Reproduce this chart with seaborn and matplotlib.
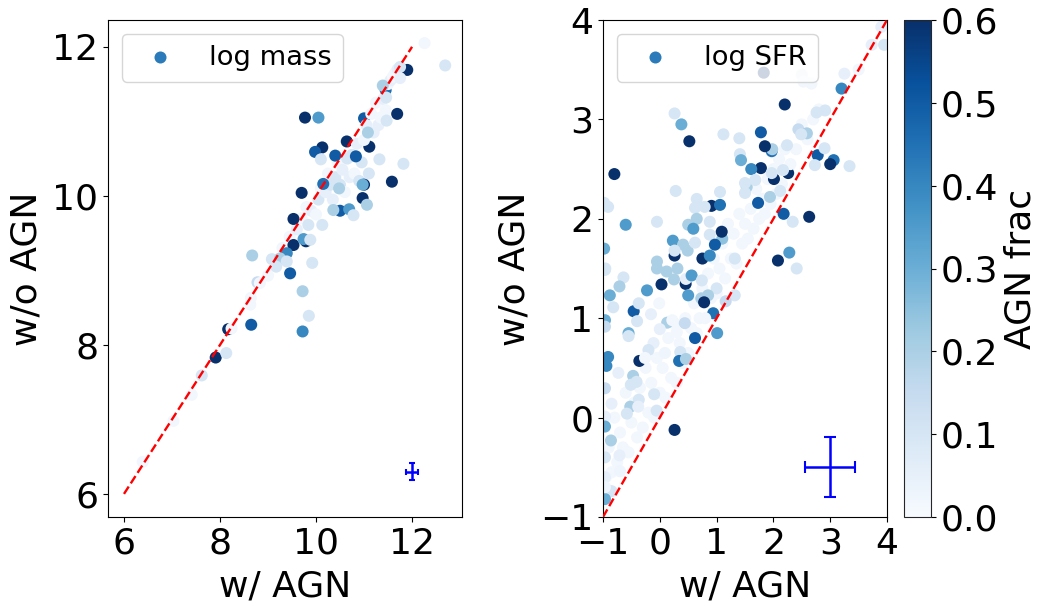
import numpy as np
import pandas as pd
import matplotlib
matplotlib.use("Agg")
import matplotlib.pyplot as plt
import seaborn as sns

sns.set_style("ticks")
plt.rcParams['font.family'] = ['DejaVu Sans']
plt.rcParams['font.size'] = 26
plt.rcParams['text.color'] = 'black'
plt.rcParams['axes.labelcolor'] = 'black'
plt.rcParams['xtick.color'] = 'black'
plt.rcParams['ytick.color'] = 'black'

# left panel, dark points that sit under the pale cloud
mass_under_x = [11.45, 11.0, 11.11, 10.64]
mass_under_y = [11.42, 11.04, 10.66, 10.73]
mass_under_f = [0.45, 0.5, 0.6, 0.6]

# left panel, pale cloud along the line
mass_pale_x = [9.3, 9.45, 9.6, 9.7, 9.8, 9.9, 10.0, 10.05, 10.1, 10.2,
               10.25, 10.3, 10.35, 10.4, 10.45, 10.5, 10.55, 10.6, 10.65, 10.7,
               10.75, 10.8, 10.85, 10.9, 10.95, 11.0, 11.05, 11.1, 11.15, 11.2,
               11.25, 11.3, 11.35, 11.4, 11.45, 11.5, 11.55, 11.6, 11.65, 11.7]
mass_pale_y = [9.3, 9.45, 9.55, 9.7, 9.85, 9.8, 9.75, 9.95, 10.1, 10.05,
               10.3, 10.15, 9.95, 10.25, 10.45, 10.15, 10.35, 10.05, 10.5, 10.25,
               10.55, 10.3, 10.7, 10.2, 10.45, 10.75, 10.95, 10.3, 11.1, 10.85,
               11.25, 10.95, 11.05, 11.3, 11.15, 11.5, 11.55, 11.6, 11.65, 11.7]
mass_pale_f = [0.02, 0.02, 0.05, 0.02, 0.02, 0.05, 0.02, 0.1, 0.02, 0.05,
               0.02, 0.1, 0.05, 0.1, 0.02, 0.1, 0.05, 0.02, 0.1, 0.05,
               0.1, 0.02, 0.05, 0.1, 0.1, 0.02, 0.05, 0.1, 0.02, 0.05,
               0.02, 0.05, 0.02, 0.05, 0.02, 0.02, 0.05, 0.02, 0.02, 0.05]

# left panel, points that can be picked out
mass_x = [12.26, 12.69, 11.9, 11.75, 11.75, 11.39, 11.46, 11.69, 11.47,
          9.77, 10.05, 11.08, 10.13, 9.98, 10.1, 10.4, 10.83,
          11.32, 11.82, 11.58, 9.7, 11.0, 10.97, 10.97, 11.06, 10.48,
          10.15, 10.5, 10.36, 10.69, 10.78, 9.53, 9.84, 10.13, 9.79, 9.53,
          9.74, 9.88, 8.67, 9.08, 9.39, 9.25, 9.92, 9.46, 9.72, 9.85,
          9.72, 8.65, 8.17, 8.24, 7.91, 8.13, 7.62, 7.41, 7.03, 6.39,
          8.63, 8.64, 8.78, 8.83, 9.0, 9.17, 9.39]
mass_y = [12.05, 11.75, 11.69, 11.73, 11.58, 11.48, 11.32, 11.1, 11.01,
          11.05, 11.05, 10.85, 10.65, 10.59, 10.49, 10.54, 10.53,
          10.49, 10.43, 10.19, 10.04, 10.15, 10.15, 9.97, 9.88, 10.1,
          10.16, 9.8, 9.81, 9.82, 9.74, 9.69, 9.61, 9.61, 9.39, 9.34,
          9.42, 9.41, 9.2, 9.15, 9.23, 9.16, 9.1, 8.96, 8.72, 8.39,
          8.18, 8.27, 8.21, 8.22, 7.83, 7.89, 7.59, 7.33, 6.98, 6.43,
          8.54, 8.63, 8.84, 8.83, 8.93, 9.05, 9.12]
mass_f = [0.02, 0.1, 0.6, 0.1, 0.05, 0.2, 0.1, 0.6, 0.1,
          0.6, 0.35, 0.2, 0.6, 0.5, 0.1, 0.5, 0.5,
          0.1, 0.1, 0.6, 0.6, 0.6, 0.3, 0.6, 0.2, 0.2,
          0.45, 0.5, 0.2, 0.35, 0.1, 0.6, 0.1, 0.1, 0.6, 0.6,
          0.35, 0.1, 0.2, 0.1, 0.4, 0.2, 0.1, 0.5, 0.2, 0.1,
          0.4, 0.5, 0.6, 0.02, 0.6, 0.1, 0.1, 0.02, 0.02, 0.02,
          0.02, 0.02, 0.15, 0.02, 0.02, 0.1, 0.1]

# right panel, dark points that sit under the pale cloud
sfr_under_x = [2.78, 2.26, 0.94]
sfr_under_y = [2.64, 2.46, 1.05]
sfr_under_f = [0.5, 0.6, 0.45]

# right panel, pale cloud above the line
sfr_pale_x = [-0.95, -0.9, -0.85, -0.8, -0.75, -0.7, -0.65, -0.6, -0.55, -0.5,
              -0.45, -0.4, -0.35, -0.3, -0.25, -0.2, -0.15, -0.1, -0.05, 0.0,
              0.05, 0.1, 0.15, 0.2, 0.25, 0.3, 0.35, 0.4, 0.45, 0.5,
              0.55, 0.6, 0.65, 0.7, 0.75, 0.8, 0.85, 0.9, 0.95, 1.0,
              1.05, 1.1, 1.15, 1.2, 1.25, 1.3, 1.35, 1.4, 1.45, 1.5,
              1.55, 1.6, 1.65, 1.7, 1.75, 1.8, 1.85, 1.9, 1.95, 2.0,
              2.05, 2.1, 2.15, 2.2, 2.3, 2.4, 2.5, 2.6, 2.7, 2.8]
sfr_pale_y = [-0.6, -0.3, -0.55, 0.0, -0.45, -0.15, -0.3, 0.25, -0.35, -0.05,
              0.15, -0.2, 0.3, -0.1, 0.5, 0.05, 0.35, 0.0, 0.6, 0.25,
              0.5, 0.2, 0.8, 0.4, 0.95, 0.35, 0.75, 0.55, 1.0, 0.65,
              0.9, 1.15, 0.85, 1.0, 1.3, 1.0, 1.45, 1.2, 1.6, 1.25,
              1.5, 1.75, 1.4, 1.95, 1.6, 1.85, 1.55, 2.05, 1.75, 1.95,
              1.8, 2.1, 1.9, 2.3, 2.0, 2.2, 2.05, 2.4, 2.15, 2.5,
              2.25, 2.6, 2.35, 2.7, 2.55, 2.7, 2.95, 2.8, 3.0, 3.1]
sfr_pale_f = [0.02] * 70

# right panel, points that can be picked out
sfr_x = [3.95, 1.83, 3.2, 2.2, 0.26, 0.38, 0.52, 1.12, 1.4, 1.78,
         1.97, 1.98, 1.85, 2.24, 2.76, 2.91, 2.44, 2.59, 2.49, 1.41,
         1.43, 1.78, 1.61, 3.06, 3.0, 3.34, 2.73, 2.9, -0.8, 0.28,
         -0.91, -0.98, -0.6, -0.05, 0.65, 1.06, 0.91, 1.06, 0.79, 0.62,
         0.65, 0.5, 0.59, 0.88, 1.1, 1.09, 0.88, 0.23, 0.41, 0.49,
         0.62, 0.97, 0.26, 0.26, 0.75, 0.88, 1.32, -0.98, 2.08, 2.28,
         2.41, 2.63, 2.18, 2.34, 1.73, 1.94, 2.12, 2.01, 1.97,
         2.17, 1.53, 1.5, 1.5, 1.68, 2.5, 2.67, 2.53, 3.25,
         3.73, 3.5, 3.9, -0.05, -0.05, -0.96, -0.965, -0.64, -0.71, -0.225,
         0.03, 0.12, 0.25, 0.31, 0.455, 0.46, 0.56, 0.74, 0.5, 1.0,
         0.85, 0.73, 0.78, 1.32, 1.16, -0.88, -0.82, -0.46, -0.37,
         -0.01, -0.155, -0.4, -0.965, -0.965, 0.13, 0.22, 0.44, 0.0, 0.3,
         0.62, 1.01, -0.55, -0.55, -0.11, -0.2, 0.09, 0.36, -0.91, -0.94,
         -0.36, -0.26, 0.34, 0.46, -0.73, -0.47, -0.41, -0.51, -0.965, -0.1,
         -0.37, -0.52, -0.38, -0.58, -0.85, -0.055, 0.26, -0.965, -0.965, -0.86,
         -0.71, -0.965, -0.7, -0.965, -0.85, -0.965, -0.965]
sfr_y = [3.75, 3.47, 3.31, 3.15, 3.06, 2.95, 2.78, 2.85, 2.81, 2.87,
         2.68, 2.7, 2.73, 2.74, 3.07, 3.09, 2.9, 2.86, 2.85, 2.65,
         2.59, 2.51, 2.5, 2.59, 2.55, 2.53, 2.54, 2.71, 2.45, 2.28,
         2.12, 2.16, 1.94, 1.97, 2.2, 2.27, 2.13, 2.14, 2.12, 2.11,
         2.0, 1.94, 1.9, 1.97, 1.8, 1.87, 1.84, 1.78, 1.74, 1.68,
         1.76, 1.74, 1.63, 1.68, 1.6, 1.63, 1.6, 1.7, 1.58, 1.66,
         1.5, 2.02, 2.05, 1.97, 2.16, 2.22, 2.28, 2.4, 2.46,
         2.49, 2.32, 2.26, 2.36, 2.39, 3.45, 3.36, 3.38, 3.46,
         3.75, 3.5, 3.93, 1.57, 1.5, 1.5, 1.486, 1.41, 1.32, 1.28,
         1.34, 1.47, 1.39, 1.5, 1.345, 1.395, 1.43, 1.38, 1.23, 1.3,
         1.23, 1.2, 1.16, 1.23, 1.17, 1.23, 1.11, 1.07, 1.15,
         1.15, 1.04, 0.97, 0.98, 0.915, 0.955, 0.98, 0.95, 0.89, 0.86,
         0.8, 0.85, 0.85, 0.82, 0.75, 0.68, 0.65, 0.66, 0.61, 0.52,
         0.57, 0.6, 0.57, 0.59, 0.45, 0.42, 0.36, 0.33, 0.295, 0.235,
         0.18, 0.11, 0.11, 0.04, 0.14, 0.07, -0.124, 0.01, -0.09, -0.23,
         -0.38, -0.4, -0.54, -0.6, -0.74, -0.82, -0.7]
sfr_f = [0.1, 0.6, 0.4, 0.6, 0.1, 0.3, 0.6, 0.1, 0.1, 0.5,
         0.45, 0.2, 0.6, 0.1, 0.1, 0.1, 0.15, 0.2, 0.1, 0.1,
         0.3, 0.6, 0.4, 0.45, 0.6, 0.1, 0.1, 0.1, 0.6, 0.1,
         0.1, 0.1, 0.35, 0.1, 0.1, 0.1, 0.6, 0.45, 0.1, 0.1,
         0.2, 0.2, 0.35, 0.1, 0.25, 0.6, 0.1, 0.35, 0.2, 0.2,
         0.1, 0.5, 0.6, 0.1, 0.6, 0.4, 0.1, 0.3, 0.6, 0.35,
         0.1, 0.6, 0.5, 0.1, 0.5, 0.2, 0.1, 0.6, 0.1,
         0.1, 0.2, 0.1, 0.1, 0.1, 0.05, 0.02, 0.02, 0.05,
         0.05, 0.02, 0.05, 0.2, 0.2, 0.1, 0.1, 0.1, 0.2, 0.35,
         0.6, 0.2, 0.2, 0.2, 0.6, 0.05, 0.35, 0.1, 0.35, 0.1,
         0.2, 0.2, 0.6, 0.1, 0.15, 0.3, 0.1, 0.5, 0.1,
         0.02, 0.05, 0.1, 0.3, 0.15, 0.2, 0.02, 0.15, 0.05, 0.02,
         0.5, 0.35, 0.3, 0.1, 0.05, 0.1, 0.03, 0.1, 0.4, 0.4,
         0.6, 0.02, 0.45, 0.2, 0.05, 0.2, 0.1, 0.1, 0.15, 0.1,
         0.1, 0.2, 0.05, 0.1, 0.05, 0.1, 0.6, 0.05, 0.3, 0.2,
         0.05, 0.1, 0.03, 0.05, 0.1, 0.3, 0.03]

one_to_one_mass = [6, 12]
one_to_one_sfr = [-1, 4]
frac_ticks = [0.0, 0.1, 0.2, 0.3, 0.4, 0.5, 0.6]

W, H = 1038, 606
fig = plt.figure(figsize=(W / 100, H / 100), dpi=100)
ax1 = fig.add_axes([108 / W, 89 / H, 354 / W, 497 / H])
ax2 = fig.add_axes([603 / W, 89 / H, 284 / W, 497 / H])
cax = fig.add_axes([904 / W, 89 / H, 27 / W, 497 / H])

df1 = pd.DataFrame({"x": mass_under_x + mass_pale_x + mass_x,
                    "y": mass_under_y + mass_pale_y + mass_y,
                    "f": mass_under_f + mass_pale_f + mass_f})
df2 = pd.DataFrame({"x": sfr_under_x + sfr_pale_x + sfr_x,
                    "y": sfr_under_y + sfr_pale_y + sfr_y,
                    "f": sfr_under_f + sfr_pale_f + sfr_f})

for ax, df, line in [(ax1, df1, one_to_one_mass), (ax2, df2, one_to_one_sfr)]:
    sns.scatterplot(data=df, x="x", y="y", hue="f", palette="Blues", hue_norm=(0, 0.6),
                    s=75, linewidth=0, legend=False, ax=ax, zorder=2)
    ax.plot(line, line, color="red", ls="--", lw=1.7, zorder=3)
    ax.set_xlabel("w/ AGN", fontsize=26, labelpad=6)
    ax.set_ylabel("w/o AGN", fontsize=26, labelpad=6)
    ax.tick_params(labelsize=26, length=3.5, width=0.8, pad=3.5)
    for s in ax.spines.values():
        s.set_linewidth(0.8)
        s.set_color("black")

ax1.scatter([], [], color="#2b7bba", s=75, linewidth=0, label="log mass")
ax2.scatter([], [], color="#2b7bba", s=75, linewidth=0, label="log SFR")
ax1.legend(loc="upper left", fontsize=19.7, scatterpoints=1)
ax2.legend(loc="upper left", fontsize=19.7, scatterpoints=1)

ax1.errorbar([12], [6.3], xerr=[0.13], yerr=[0.115], color="blue", lw=1.8, capsize=2.2, capthick=1.5, zorder=4)
ax2.errorbar([3], [-0.5], xerr=[0.44], yerr=[0.3], color="blue", lw=1.8, capsize=4, capthick=1.5, zorder=4)

ax1.set_xlim(5.667, 13.04)
ax1.set_ylim(5.69, 12.36)
ax1.set_xticks([6, 8, 10, 12])
ax1.set_yticks([6, 8, 10, 12])
ax2.set_xlim(-1, 4)
ax2.set_ylim(-1, 4)
ax2.set_xticks([-1, 0, 1, 2, 3, 4])
ax2.set_yticks([-1, 0, 1, 2, 3, 4])

sm = plt.cm.ScalarMappable(cmap="Blues", norm=plt.Normalize(0, 0.6))
cb = fig.colorbar(sm, cax=cax)
cb.set_ticks(frac_ticks)
cb.ax.tick_params(labelsize=26, length=3.5, width=0.8)
cb.set_label("AGN frac", fontsize=26, labelpad=4)
cb.outline.set_linewidth(0.8)

fig.savefig("out.png", dpi=100)
